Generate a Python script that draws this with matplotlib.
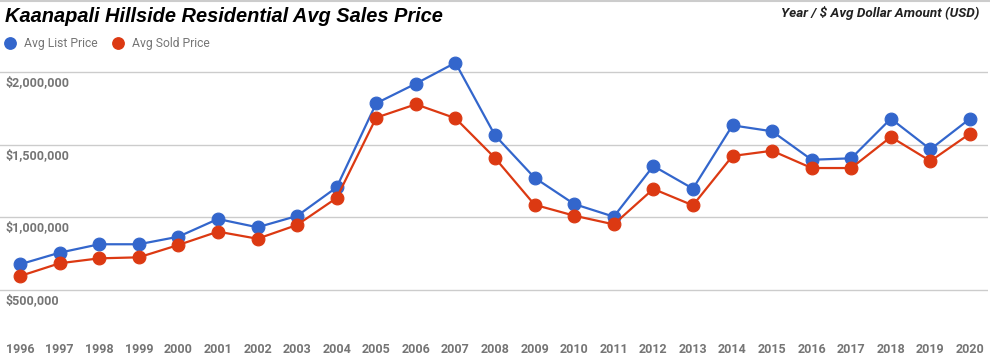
import matplotlib
matplotlib.use("Agg")
import matplotlib.pyplot as plt
from matplotlib.lines import Line2D

years = list(range(1996, 2021))
list_price = [677000, 757000, 815000, 815000, 867000, 989000, 932000, 1010000,
              1207000, 1786000, 1921000, 2065000, 1565000, 1273000, 1092000, 1005000,
              1354000, 1198000, 1634000, 1593000, 1397000, 1407000, 1680000, 1469000, 1680000]
sold_price = [596000, 684000, 718000, 725000, 810000, 902000, 853000, 948000,
              1134000, 1687000, 1779000, 1683000, 1409000, 1087000, 1012000, 952000,
              1196000, 1083000, 1423000, 1459000, 1340000, 1340000, 1554000, 1388000, 1577000]
y_ticks = [500000, 1000000, 1500000, 2000000]
y_tick_labels = ["$500,000", "$1,000,000", "$1,500,000", "$2,000,000"]
series_names = ["Avg List Price", "Avg Sold Price"]
colors = ["#3366cc", "#dc3912"]

W, H = 990, 363
fig = plt.figure(figsize=(W / 100, H / 100), dpi=100)
ax_top, ax_bot = 55, 330
ax = fig.add_axes([0, (H - ax_bot) / H, 988 / W, (ax_bot - ax_top) / H])

px_per = 72.6 / 500000
ax.set_ylim(500000 - (ax_bot - 290) / px_per, 500000 + (290 - ax_top) / px_per)
sp = (970 - 20) / 24
x_left = 1996 - 20 / sp
ax.set_xlim(x_left, x_left + 988 / sp)

for vals, c in zip([list_price, sold_price], colors):
    ax.plot(years, vals, color=c, lw=1.6, marker='o', ms=9.2, mec=c, mfc=c, mew=0.8,
            zorder=3)

for v in y_ticks:
    ax.axhline(v, color="#cccccc", lw=1, zorder=1)
for v, lab in zip(y_ticks, y_tick_labels):
    ax.annotate(lab, xy=(0, v), xycoords=('axes fraction', 'data'), xytext=(6, -4),
                textcoords='offset pixels', va='top', ha='left', fontsize=9,
                fontweight='bold', color="#757575", family='Roboto')

ax.set_yticks([])
ax.set_xticks(years)
ax.set_xticklabels([str(y) for y in years], fontsize=9, fontweight='bold',
                   color="#757575", family='Roboto')
ax.tick_params(axis='x', length=0, pad=9.5)
for s in ax.spines.values():
    s.set_visible(False)

# top border
fig.add_artist(Line2D([0, 1], [1 - 1 / H, 1 - 1 / H], color="#cccccc", lw=1.5,
                      transform=fig.transFigure))

fig.text(5 / W, 1 - 16 / H, "Kaanapali Hillside Residential Avg Sales Price",
         fontsize=14.4, fontweight='bold', style='italic', family='Liberation Sans',
         va='center', ha='left', color='black')
fig.text(979 / W, 1 - 13 / H, "Year / $ Avg Dollar Amount (USD)",
         fontsize=9.7, fontweight='bold', style='italic', family='Roboto',
         va='center', ha='right', color='#222222')

# legend
lx = [10, 118]
for x0, name, c in zip(lx, series_names, colors):
    fig.add_artist(Line2D([x0 / W], [1 - 43 / H], marker='o', ms=8.2, color=c,
                          transform=fig.transFigure, lw=0))
    fig.text((x0 + 14) / W, 1 - 43 / H, name, fontsize=8.7, color="#757575",
             family='Roboto', va='center', ha='left')

fig.savefig("out.png", dpi=100)
